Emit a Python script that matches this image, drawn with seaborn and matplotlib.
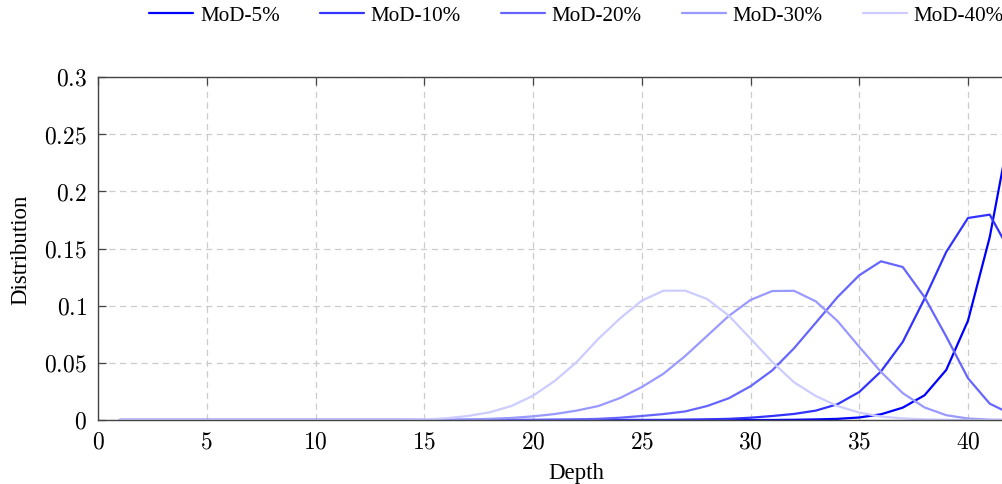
import numpy as np
import pandas as pd
import matplotlib
matplotlib.use("Agg")
import matplotlib.pyplot as plt
from matplotlib.ticker import FuncFormatter
import seaborn as sns

# Depth levels and the distribution of each MoD configuration over them
depth = list(range(1, 45))

mod_5 = [0.0] * 31 + [0.0002, 0.0005, 0.0010, 0.0022, 0.0050, 0.0108, 0.0216,
                      0.0438, 0.0869, 0.1600, 0.2610, 0.2450, 0.1600]
mod_10 = [0.0] * 26 + [0.0003, 0.0006, 0.0010, 0.0020, 0.0035, 0.0053, 0.0082,
                       0.0138, 0.0245, 0.0425, 0.0683, 0.1060, 0.1470, 0.1767,
                       0.1796, 0.1450, 0.0650, 0.0170]
mod_20 = [0.0] * 20 + [0.0003, 0.0006, 0.0010, 0.0020, 0.0035, 0.0052, 0.0075,
                       0.0122, 0.0190, 0.0295, 0.0434, 0.0627, 0.0850, 0.1075,
                       0.1266, 0.1388, 0.1338, 0.1075, 0.0730, 0.0365, 0.0143,
                       0.0050, 0.0010, 0.0]
mod_30 = [0.0] * 16 + [0.0005, 0.0010, 0.0018, 0.0032, 0.0052, 0.0082, 0.0122,
                       0.0192, 0.0288, 0.0405, 0.0560, 0.0735, 0.0910, 0.1050,
                       0.1128, 0.1130, 0.1038, 0.0866, 0.0640, 0.0420, 0.0235,
                       0.0110, 0.0042, 0.0013, 0.0003, 0.0, 0.0, 0.0]
mod_40 = [0.0] * 14 + [0.0005, 0.0015, 0.0035, 0.0067, 0.0122, 0.0212, 0.0342,
                       0.0505, 0.0709, 0.0888, 0.1044, 0.1131, 0.1131, 0.1059,
                       0.0913, 0.0712, 0.0508, 0.0330, 0.0210, 0.0122, 0.0065,
                       0.0030, 0.0014, 0.0006, 0.0002, 0.0, 0.0, 0.0, 0.0, 0.0]

series_names = ["MoD-5%", "MoD-10%", "MoD-20%", "MoD-30%", "MoD-40%"]
series_values = [mod_5, mod_10, mod_20, mod_30, mod_40]
series_colors = ["#0000ff", "#3333ff", "#6666ff", "#9999ff", "#ccccff"]

y_ticks = [0, 0.05, 0.1, 0.15, 0.2, 0.25, 0.3]
x_ticks = [0, 5, 10, 15, 20, 25, 30, 35, 40]

df = pd.concat(
    [pd.DataFrame({"Depth": depth, "Distribution": vals, "Series": name})
     for name, vals in zip(series_names, series_values)],
    ignore_index=True,
)

sns.set_style("white")
plt.rcParams["font.family"] = ["Liberation Serif", "DejaVu Serif"]
plt.rcParams["mathtext.fontset"] = "cm"
plt.rcParams["text.color"] = "black"
plt.rcParams["axes.labelcolor"] = "black"

W, H = 1002, 485
fig = plt.figure(figsize=(W / 100, H / 100), dpi=100)
ax = fig.add_axes([98 / W, 64 / H, 957 / W, 343 / H])

sns.lineplot(data=df, x="Depth", y="Distribution", hue="Series",
             hue_order=series_names, palette=series_colors,
             linewidth=1.6, ax=ax, legend=True)

ax.set_xlim(0, 44)
ax.set_ylim(0, 0.3)
ax.set_xticks(x_ticks)
ax.set_yticks(y_ticks)
fmt = FuncFormatter(lambda v, p: f"${v:g}$")
ax.xaxis.set_major_formatter(fmt)
ax.yaxis.set_major_formatter(fmt)

ax.grid(True, color="#cccccc", linestyle=(0, (5, 3.6)), linewidth=0.9)
ax.set_axisbelow(True)

for side in ("left", "bottom", "top", "right"):
    ax.spines[side].set_visible(True)
    ax.spines[side].set_color("#444444")
    ax.spines[side].set_linewidth(1.0)

ax.tick_params(axis="both", direction="in", length=6, width=0.9,
               color="#444444", labelsize=17, labelcolor="black")
ax.tick_params(axis="x", top=True, pad=8)
ax.tick_params(axis="y", left=True, right=True, pad=8)

ax.set_xlabel("Depth", fontsize=16.5, labelpad=7)
ax.set_ylabel("Distribution", fontsize=16.5, labelpad=9)

handles, labels = ax.get_legend_handles_labels()
ax.get_legend().remove()
fig.legend(handles, labels, loc="center", ncol=5, frameon=False,
           bbox_to_anchor=(576.5 / W, 1 - 16 / H), fontsize=15.2,
           handlelength=2.08, handletextpad=0.32, columnspacing=1.9,
           borderpad=0, borderaxespad=0)

fig.savefig("out.png", dpi=100)
